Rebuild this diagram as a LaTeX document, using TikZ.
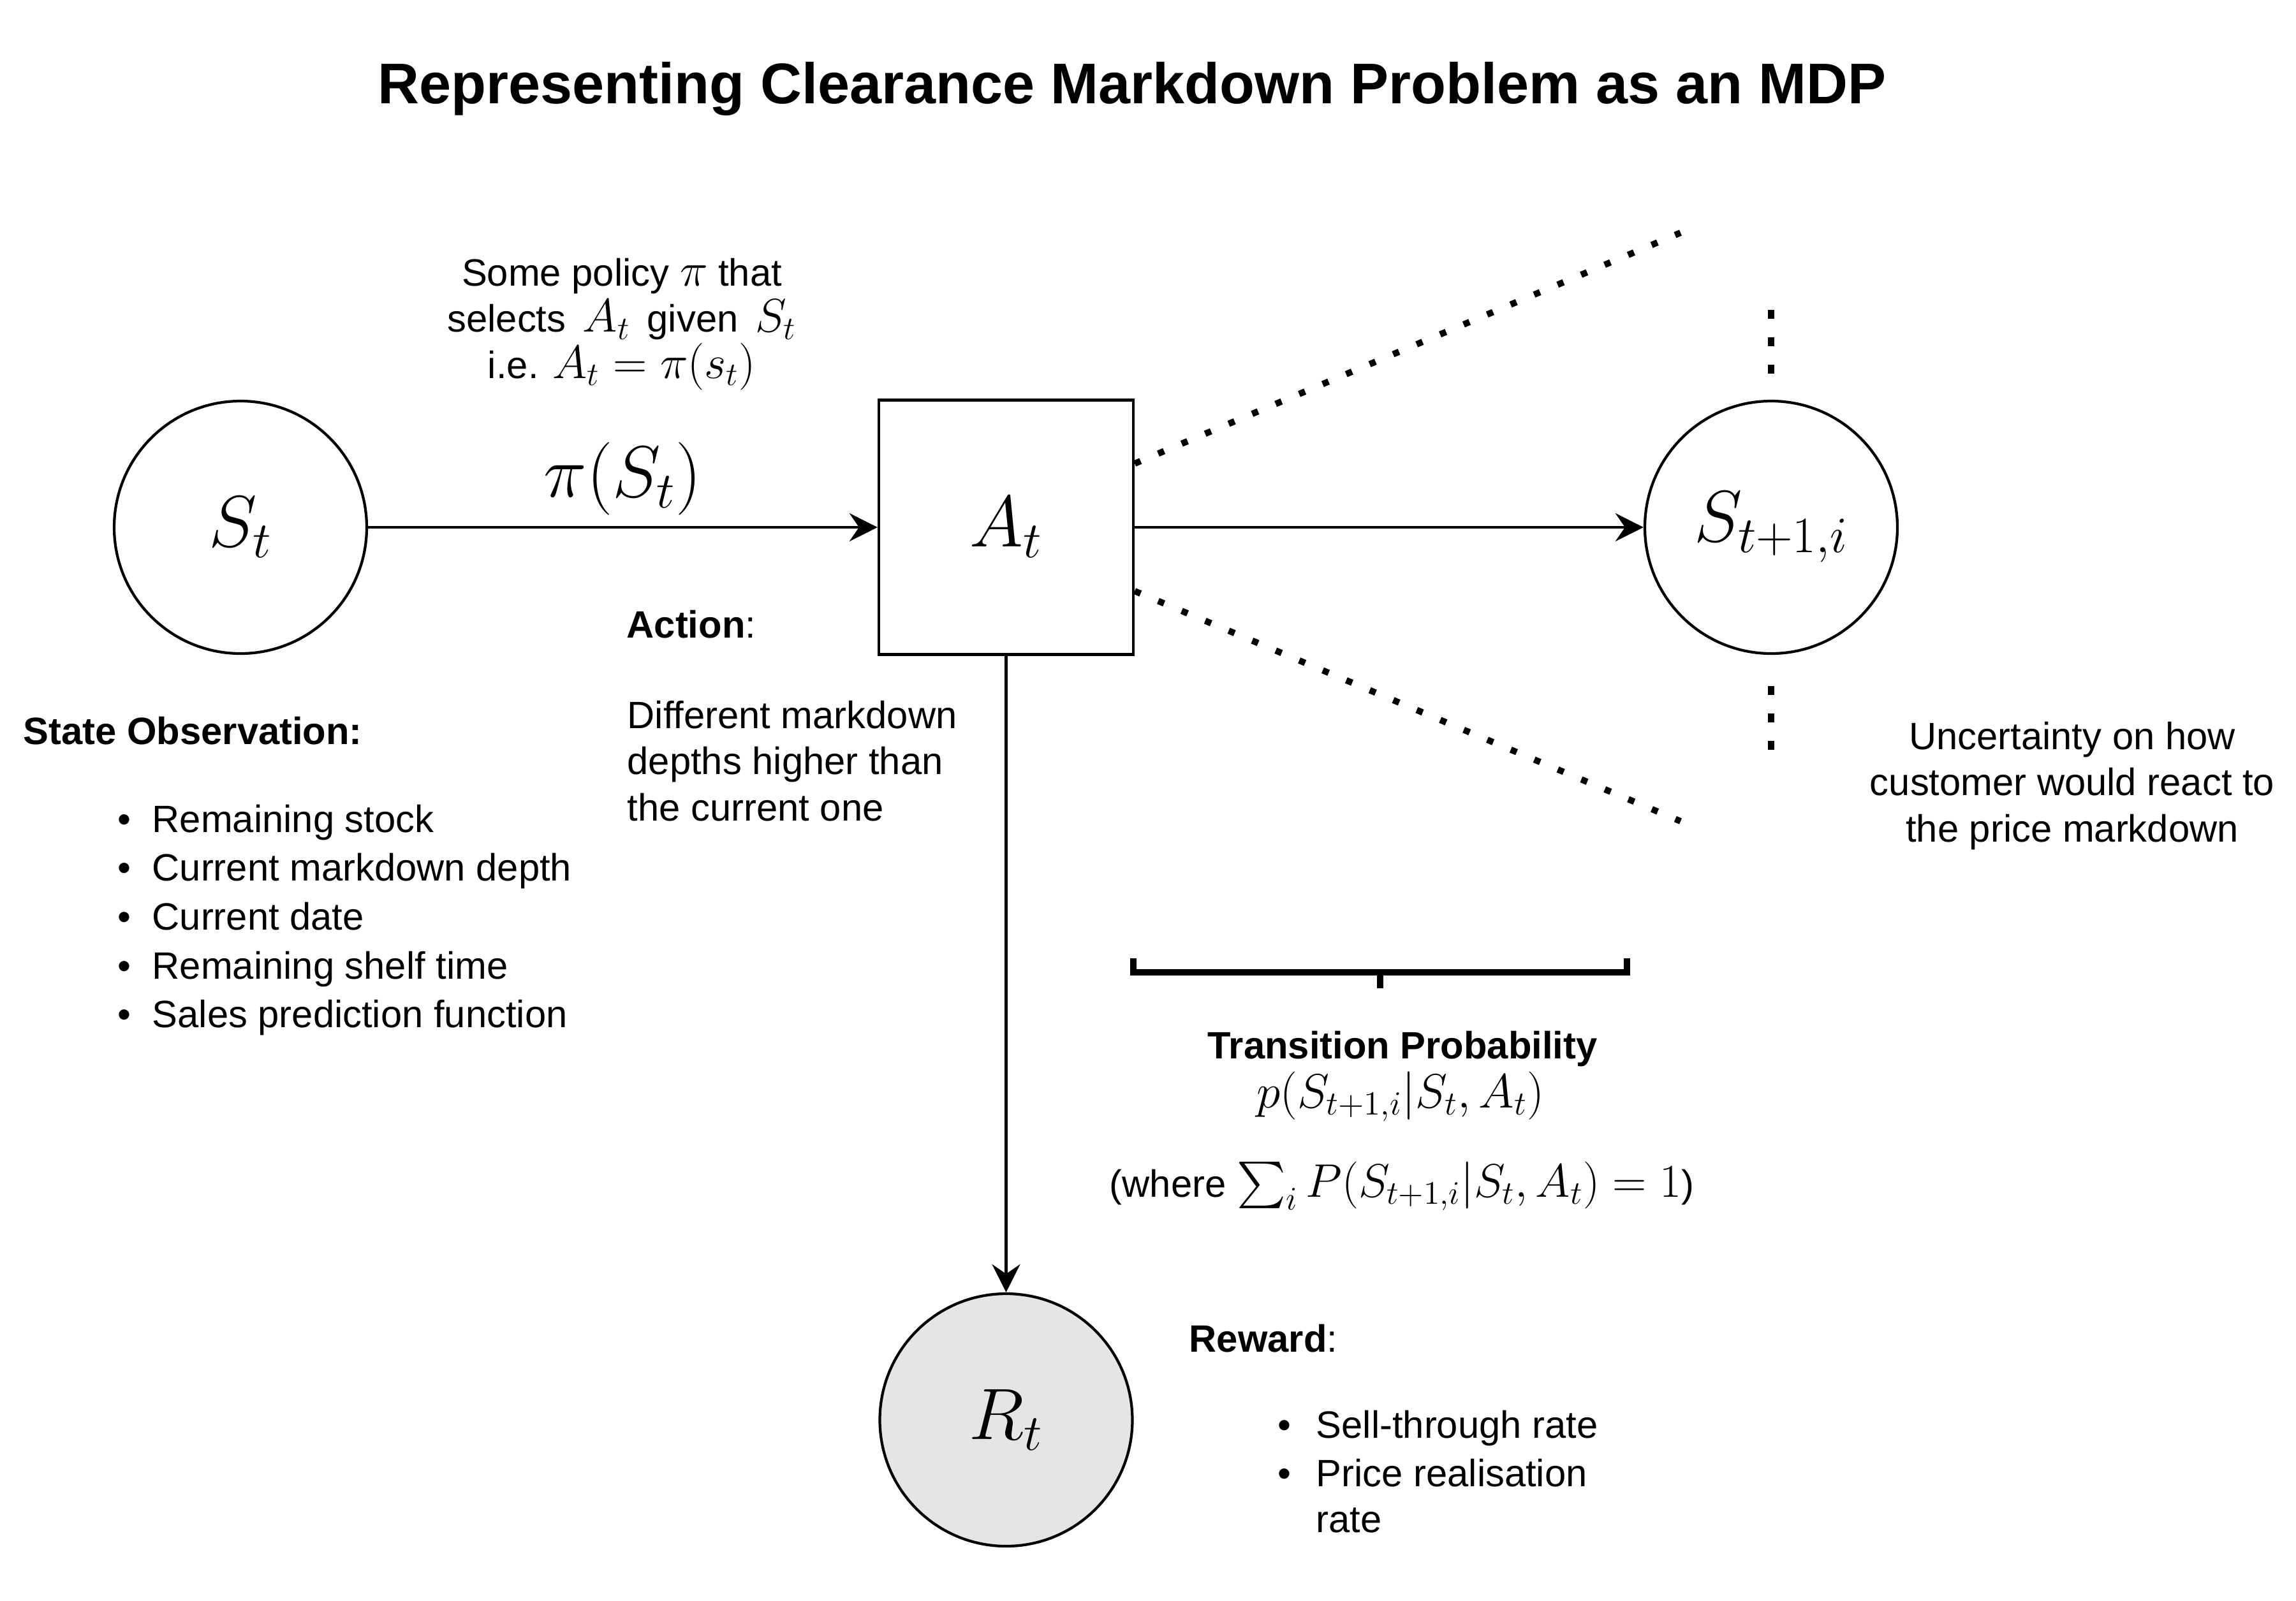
\RequirePackage{fix-cm}
\documentclass[tikz,border=0pt]{standalone}
\usepackage{amsmath}
\usepackage{fontspec}
\newfontfamily\helv{Liberation Sans}
\usepackage{tikz}
\usetikzlibrary{arrows.meta, positioning, calc}

\newcommand{\bigmath}{\fontsize{32.5}{38}\selectfont}
\newcommand{\txtsize}{\helv\fontsize{17}{20.5}\selectfont}
\newcommand{\mth}[1]{{\fontsize{21}{20.5}\selectfont$#1$}}
\newcommand{\bul}[1]{\makebox[#1][l]{\textbullet}}

\begin{document}
\begin{tikzpicture}[
    statenode/.style={
        circle, draw, line width=1.2pt,
        minimum size=3.96cm, inner sep=0pt,
        font=\bigmath
    },
    actionnode/.style={
        rectangle, draw, line width=1.2pt,
        minimum width=3.99cm, minimum height=3.99cm, inner sep=0pt,
        font=\bigmath
    },
    rewardnode/.style={statenode, fill=black!10},
    arr/.style={
        line width=1.4pt,
        -{Stealth[length=0.44cm, width=0.44cm, inset=0.15cm]}
    },
    dotline/.style={line width=0.1cm, dash pattern=on 0.1cm off 0.3cm},
    vdots/.style={line width=0.1cm, dash pattern=on 0.14cm off 0.29cm},
    note/.style={font=\txtsize, inner sep=0pt},
    heading/.style={font=\txtsize\bfseries, inner sep=0pt},
    item/.style={note, anchor=base west}
]
\useasboundingbox (0,0) rectangle (36,-25.1);

% Title
\node[font=\helv\bfseries\fontsize{25.6}{30}\selectfont, inner sep=0pt, anchor=base]
    (title) at (17.75,-1.62) {Representing Clearance Markdown Problem as an MDP};

% States, action and reward
\node[statenode] (st) at (3.77,-8.27) {$S_t$};
\node[actionnode] (at) at (15.775,-8.27) {$A_t$};
\node[statenode] (snext) at (27.77,-8.27) {$S_{t+1,i}$};
\node[rewardnode] (rt) at (15.775,-22.27) {$R_t$};

% Connectors
\draw[arr] (st) -- node[anchor=base, yshift=0.48cm, font=\bigmath, inner sep=0pt]
    (pilabel) {$\pi(S_t)$} (at);
\draw[arr] (at) -- (snext);
\draw[arr] (at) -- (rt);

% Other possible next states
\coordinate (uptip) at (26.35,-3.65);
\coordinate (downtip) at (26.35,-12.88);
\draw[dotline] ([yshift=1cm]at.east) -- (uptip);
\draw[dotline] ([yshift=-1cm]at.east) -- (downtip);
\draw[vdots] ([yshift=1.41cm]snext.north) -- ([yshift=0.41cm]snext.north);
\draw[vdots] ([yshift=-0.49cm]snext.south) -- ([yshift=-1.49cm]snext.south);

% Bracket over the transition
\draw[line width=0.1cm] (17.77,-15.03) -- (17.77,-15.25) -- (25.51,-15.25) -- (25.51,-15.03);
\draw[line width=0.1cm] (21.64,-15.25) -- (21.64,-15.5);

% Policy note (base = last line)
\node[note, align=center, anchor=base] (policy) at (9.75,-5.93)
    {Some policy \mth{\pi} that\\ selects\ \,\mth{A_t}\,\ given\ \,\mth{S_t}\\ i.e. \mth{A_t = \pi(s_t)}};

% Action text
\node[note, anchor=base west] (actlabel) at (9.82,-10.0) {\textbf{Action}:};
\node[note, align=left, anchor=base west] (actdesc) at (9.83,-12.87)
    {Different markdown\\ depths higher than\\ the current one};

% State observation list
\node[heading, anchor=base west] (obshead) at (0.36,-11.67) {State Observation:};
\foreach \txt [count=\k] in {Remaining stock, Current markdown depth, Current date,
        Remaining shelf time, Sales prediction function} {
    \node[item] (obs\k) at (1.835, {-13.05-0.767*(\k-1)}) {\bul{0.545cm}\txt};
}

% Uncertainty note
\node[note, align=center, anchor=base] (uncert) at (32.49,-13.2)
    {Uncertainty on how\\ customer would react to\\ the price markdown};

% Transition probability
\node[heading, anchor=base] (transhead) at (21.99,-16.6) {Transition Probability};
\node[inner sep=0pt, anchor=base, font=\fontsize{21.5}{25}\selectfont]
    (transformula) at (21.96,-17.37) {$p(S_{t+1,i}|S_t, A_t)$};
\node[note, anchor=base] (transnorm) at (21.98,-18.77)
    {(where \mth{\sum_i P(S_{t+1,i}|S_t, A_t) = 1})};

% Reward list
\node[note, anchor=base west] (rewhead) at (18.64,-21.2) {\textbf{Reward}:};
\node[item] (rew1) at (20.025,-22.55) {\bul{0.605cm}Sell-through rate};
\node[item, align=left] (rew2) at (20.025,-24.03)
    {\bul{0.605cm}Price realisation\\ \hspace*{0.605cm}rate};
\end{tikzpicture}
\end{document}
